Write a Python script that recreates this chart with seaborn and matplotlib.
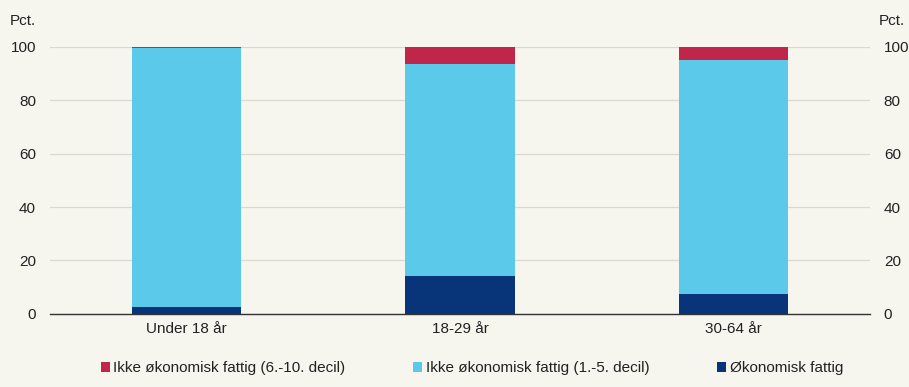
import matplotlib
matplotlib.use("Agg")
import matplotlib.pyplot as plt
import pandas as pd
import seaborn as sns
from matplotlib.patches import Patch

BG = "#f6f5ee"
RED = "#c0254a"
LIGHT = "#5bc9ea"
DARK = "#08347a"
FS = 11

categories = ["Under 18 år", "18-29 år", "30-64 år"]
poor = [2.6, 14.0, 7.5]
not_poor_low = [97.0, 79.5, 87.6]
not_poor_high = [0.4, 6.5, 4.9]
yticks = [0, 20, 40, 60, 80, 100]
legend_labels = [
    "Ikke økonomisk fattig (6.-10. decil)",
    "Ikke økonomisk fattig (1.-5. decil)",
    "Økonomisk fattig",
]

df = pd.DataFrame({
    "cat": categories,
    "poor": poor,
    "low": [p + l for p, l in zip(poor, not_poor_low)],
    "high": [p + l + h for p, l, h in zip(poor, not_poor_low, not_poor_high)],
})

sns.set_theme(style="white")
plt.rcParams["font.family"] = ["Liberation Sans", "DejaVu Sans"]

fig = plt.figure(figsize=(9.09, 3.87), dpi=100, facecolor=BG)
ax = fig.add_axes([0.055, 0.189, 0.902, 0.690], facecolor=BG)

# stacked bars: draw cumulative totals back to front
for col, color in [("high", RED), ("low", LIGHT), ("poor", DARK)]:
    sns.barplot(data=df, x="cat", y=col, order=categories, color=color,
                width=0.4, saturation=1, ax=ax, edgecolor="none", zorder=3)

ax.set_xlim(-0.5, 2.5)
ax.set_ylim(0, 100)
ax.set_yticks(yticks)
ax.yaxis.grid(True, color="#dad9d0", linewidth=0.9, zorder=0)
ax.set_axisbelow(True)
ax.set_xlabel("")
ax.set_ylabel("")
for s in ["left", "right", "top"]:
    ax.spines[s].set_visible(False)
ax.spines["bottom"].set_color("#333333")
ax.spines["bottom"].set_linewidth(1.0)
ax.spines["bottom"].set_zorder(5)

ax.tick_params(axis="y", length=0, labelsize=FS, labelcolor="#222222",
               pad=10, labelleft=True, labelright=True)
ax.tick_params(axis="x", which="major", length=0, labelsize=FS,
               labelcolor="#222222", pad=6)
ax.set_xticks([0.5, 1.5], minor=True)
ax.tick_params(axis="x", which="minor", length=4, width=1, color="#333333",
               direction="out")

fig.text(0.011, 0.945, "Pct.", fontsize=FS, color="#222222", ha="left", va="center")
fig.text(0.996, 0.945, "Pct.", fontsize=FS, color="#222222", ha="right", va="center")

handles = [Patch(facecolor=c, edgecolor="none") for c in (RED, LIGHT, DARK)]
fig.legend(handles, legend_labels, loc="center", bbox_to_anchor=(0.519, 0.049),
           ncol=3, frameon=False, fontsize=FS, handlelength=0.6,
           handleheight=0.6, handletextpad=0.25, columnspacing=4.4,
           labelcolor="#222222")

fig.savefig("out.png", dpi=100, facecolor=BG)
